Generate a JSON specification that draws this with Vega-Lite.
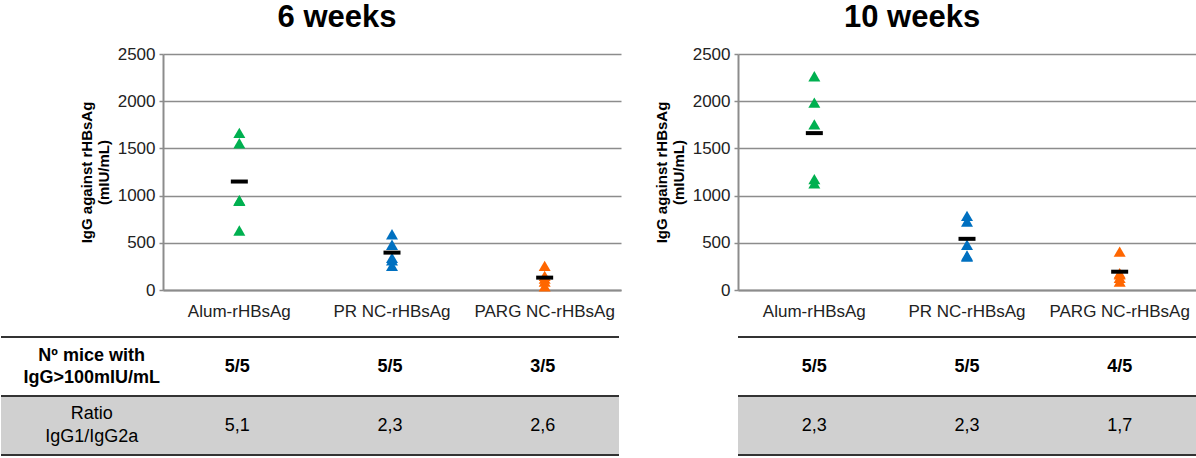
{
  "$schema": "https://vega.github.io/schema/vega-lite/v6.json",
  "padding": {"top": 2, "left": 0, "right": 0, "bottom": 0},
  "background": "white",
  "config": {
    "view": {"stroke": null},
    "axis": {"labelFont": "Liberation Sans", "titleFont": "Liberation Sans"},
    "text": {"font": "Liberation Sans"}
  },
  "datasets": {
    "w6": [
      {"group": "Alum-rHBsAg", "igg": 1665},
      {"group": "Alum-rHBsAg", "igg": 1555},
      {"group": "Alum-rHBsAg", "igg": 950},
      {"group": "Alum-rHBsAg", "igg": 945},
      {"group": "Alum-rHBsAg", "igg": 630},
      {"group": "PR NC-rHBsAg", "igg": 590},
      {"group": "PR NC-rHBsAg", "igg": 480},
      {"group": "PR NC-rHBsAg", "igg": 340},
      {"group": "PR NC-rHBsAg", "igg": 315},
      {"group": "PR NC-rHBsAg", "igg": 255},
      {"group": "PARG NC-rHBsAg", "igg": 255},
      {"group": "PARG NC-rHBsAg", "igg": 150},
      {"group": "PARG NC-rHBsAg", "igg": 120},
      {"group": "PARG NC-rHBsAg", "igg": 90},
      {"group": "PARG NC-rHBsAg", "igg": 40}
    ],
    "w10": [
      {"group": "Alum-rHBsAg", "igg": 2265},
      {"group": "Alum-rHBsAg", "igg": 1985},
      {"group": "Alum-rHBsAg", "igg": 1755},
      {"group": "Alum-rHBsAg", "igg": 1175},
      {"group": "Alum-rHBsAg", "igg": 1130},
      {"group": "PR NC-rHBsAg", "igg": 785},
      {"group": "PR NC-rHBsAg", "igg": 725},
      {"group": "PR NC-rHBsAg", "igg": 480},
      {"group": "PR NC-rHBsAg", "igg": 365},
      {"group": "PR NC-rHBsAg", "igg": 355},
      {"group": "PARG NC-rHBsAg", "igg": 407},
      {"group": "PARG NC-rHBsAg", "igg": 177},
      {"group": "PARG NC-rHBsAg", "igg": 165},
      {"group": "PARG NC-rHBsAg", "igg": 130},
      {"group": "PARG NC-rHBsAg", "igg": 90}
    ],
    "t6": [
      {"group": "hdr", "metric": "mice", "text": "Nº mice with\nIgG>100mIU/mL"},
      {"group": "Alum-rHBsAg", "metric": "mice", "text": "5/5"},
      {"group": "PR NC-rHBsAg", "metric": "mice", "text": "5/5"},
      {"group": "PARG NC-rHBsAg", "metric": "mice", "text": "3/5"},
      {"group": "hdr", "metric": "ratio", "text": "Ratio\nIgG1/IgG2a"},
      {"group": "Alum-rHBsAg", "metric": "ratio", "text": "5,1"},
      {"group": "PR NC-rHBsAg", "metric": "ratio", "text": "2,3"},
      {"group": "PARG NC-rHBsAg", "metric": "ratio", "text": "2,6"}
    ],
    "t10": [
      {"group": "Alum-rHBsAg", "metric": "mice", "text": "5/5"},
      {"group": "PR NC-rHBsAg", "metric": "mice", "text": "5/5"},
      {"group": "PARG NC-rHBsAg", "metric": "mice", "text": "4/5"},
      {"group": "Alum-rHBsAg", "metric": "ratio", "text": "2,3"},
      {"group": "PR NC-rHBsAg", "metric": "ratio", "text": "2,3"},
      {"group": "PARG NC-rHBsAg", "metric": "ratio", "text": "1,7"}
    ]
  },
  "spacing": 17,
  "vconcat": [
    {
      "spacing": 33,
      "hconcat": [
        {
          "width": 45,
          "height": 10,
          "data": {"values": [{}]},
          "mark": {"type": "point", "opacity": 0}
        },
        {
          "width": 458,
          "height": 236,
          "title": {"text": "6 weeks", "font": "Liberation Sans", "fontSize": 31, "fontWeight": "bold", "color": "#000", "anchor": "middle", "frame": "bounds", "dx": -13, "offset": 11},
          "data": {"name": "w6"},
          "encoding": {
            "x": {
              "field": "group", "type": "nominal",
              "sort": ["Alum-rHBsAg", "PR NC-rHBsAg", "PARG NC-rHBsAg"],
              "scale": {"type": "band", "paddingInner": 0, "paddingOuter": 0},
              "axis": {"title": null, "labelAngle": 0, "labelFontSize": 17, "labelColor": "#222", "labelPadding": 13, "ticks": false, "domainColor": "#8c8c8c", "domainWidth": 2}
            },
            "y": {
              "field": "igg", "type": "quantitative",
              "scale": {"domain": [0, 2500], "nice": false},
              "axis": {"title": ["IgG against rHBsAg", "(mIU/mL)"], "titleFontSize": 15, "titleFontWeight": "bold", "titleColor": "#000", "titlePadding": 6, "values": [0, 500, 1000, 1500, 2000, 2500], "format": "d", "labelFontSize": 17, "labelColor": "#222", "labelPadding": 4, "tickSize": 4, "tickColor": "#8c8c8c", "tickWidth": 1.5, "domainColor": "#8c8c8c", "domainWidth": 2, "gridColor": "#8c8c8c", "gridWidth": 1.5}
            }
          },
          "layer": [
            {
              "mark": {"type": "point", "shape": "triangle-up", "filled": true, "size": 144, "opacity": 1},
              "encoding": {
                "color": {"field": "group", "type": "nominal", "legend": null, "scale": {"domain": ["Alum-rHBsAg", "PR NC-rHBsAg", "PARG NC-rHBsAg"], "range": ["#00B050", "#0070C0", "#FF6600"]}}
              }
            },
            {
              "mark": {"type": "tick", "color": "#000", "size": 17, "thickness": 4, "opacity": 1},
              "encoding": {"y": {"aggregate": "mean", "field": "igg", "type": "quantitative"}}
            }
          ]
        },
        {
          "width": 458,
          "height": 236,
          "title": {"text": "10 weeks", "font": "Liberation Sans", "fontSize": 31, "fontWeight": "bold", "color": "#000", "anchor": "middle", "frame": "bounds", "dx": -13, "offset": 11},
          "data": {"name": "w10"},
          "encoding": {
            "x": {
              "field": "group", "type": "nominal",
              "sort": ["Alum-rHBsAg", "PR NC-rHBsAg", "PARG NC-rHBsAg"],
              "scale": {"type": "band", "paddingInner": 0, "paddingOuter": 0},
              "axis": {"title": null, "labelAngle": 0, "labelFontSize": 17, "labelColor": "#222", "labelPadding": 13, "ticks": false, "domainColor": "#8c8c8c", "domainWidth": 2}
            },
            "y": {
              "field": "igg", "type": "quantitative",
              "scale": {"domain": [0, 2500], "nice": false},
              "axis": {"title": ["IgG against rHBsAg", "(mIU/mL)"], "titleFontSize": 15, "titleFontWeight": "bold", "titleColor": "#000", "titlePadding": 6, "values": [0, 500, 1000, 1500, 2000, 2500], "format": "d", "labelFontSize": 17, "labelColor": "#222", "labelPadding": 4, "tickSize": 4, "tickColor": "#8c8c8c", "tickWidth": 1.5, "domainColor": "#8c8c8c", "domainWidth": 2, "gridColor": "#8c8c8c", "gridWidth": 1.5}
            }
          },
          "layer": [
            {
              "mark": {"type": "point", "shape": "triangle-up", "filled": true, "size": 144, "opacity": 1},
              "encoding": {
                "color": {"field": "group", "type": "nominal", "legend": null, "scale": {"domain": ["Alum-rHBsAg", "PR NC-rHBsAg", "PARG NC-rHBsAg"], "range": ["#00B050", "#0070C0", "#FF6600"]}}
              }
            },
            {
              "mark": {"type": "tick", "color": "#000", "size": 17, "thickness": 4, "opacity": 1},
              "encoding": {"y": {"aggregate": "mean", "field": "igg", "type": "quantitative"}}
            }
          ]
        }
      ]
    },
    {
      "spacing": 117,
      "hconcat": [
        {
          "width": 618,
          "height": 118,
          "data": {"name": "t6"},
          "encoding": {
            "y": {"field": "metric", "type": "nominal", "scale": {"type": "band", "domain": ["mice", "ratio"], "paddingInner": 0, "paddingOuter": 0}, "axis": null},
            "x": {"field": "group", "type": "nominal", "scale": {"type": "band", "domain": ["hdr", "Alum-rHBsAg", "PR NC-rHBsAg", "PARG NC-rHBsAg"], "paddingInner": 0, "paddingOuter": 0.024, "align": 1}, "axis": null}
          },
          "layer": [
            {
              "transform": [{"filter": "datum.metric == 'ratio'"}, {"aggregate": [{"op": "count", "as": "n"}], "groupby": ["metric"]}],
              "mark": {"type": "rect", "color": "#d0d0d0"},
              "encoding": {"x": null}
            },
            {
              "transform": [{"aggregate": [{"op": "count", "as": "n"}], "groupby": ["metric"]}],
              "mark": {"type": "rule", "color": "#333", "strokeWidth": 2},
              "encoding": {"x": null, "y": {"field": "metric", "type": "nominal", "bandPosition": 0}}
            },
            {
              "transform": [{"filter": "datum.metric == 'ratio'"}, {"aggregate": [{"op": "count", "as": "n"}], "groupby": ["metric"]}],
              "mark": {"type": "rule", "color": "#333", "strokeWidth": 2},
              "encoding": {"x": null, "y": {"field": "metric", "type": "nominal", "bandPosition": 1}}
            },
            {
              "transform": [{"filter": "datum.metric == 'mice' && datum.group != 'hdr'"}],
              "mark": {"type": "text", "fontSize": 18, "fontWeight": "bold", "color": "#000", "align": "center", "baseline": "middle"},
              "encoding": {"text": {"field": "text"}}
            },
            {
              "transform": [{"filter": "datum.metric == 'mice' && datum.group == 'hdr'"}],
              "mark": {"type": "text", "fontSize": 18, "fontWeight": "bold", "color": "#000", "lineBreak": "\n", "lineHeight": 22, "align": "center", "baseline": "middle", "dx": 7, "dy": -11},
              "encoding": {"text": {"field": "text"}}
            },
            {
              "transform": [{"filter": "datum.metric == 'ratio' && datum.group != 'hdr'"}],
              "mark": {"type": "text", "fontSize": 18, "color": "#000", "align": "center", "baseline": "middle"},
              "encoding": {"text": {"field": "text"}}
            },
            {
              "transform": [{"filter": "datum.metric == 'ratio' && datum.group == 'hdr'"}],
              "mark": {"type": "text", "fontSize": 18, "color": "#000", "lineBreak": "\n", "lineHeight": 23, "align": "center", "baseline": "middle", "dx": 7, "dy": -11.5},
              "encoding": {"text": {"field": "text"}}
            }
          ]
        },
        {
          "width": 458,
          "height": 118,
          "data": {"name": "t10"},
          "encoding": {
            "y": {"field": "metric", "type": "nominal", "scale": {"type": "band", "domain": ["mice", "ratio"], "paddingInner": 0, "paddingOuter": 0}, "axis": null},
            "x": {"field": "group", "type": "nominal", "scale": {"type": "band", "domain": ["Alum-rHBsAg", "PR NC-rHBsAg", "PARG NC-rHBsAg"], "paddingInner": 0, "paddingOuter": 0}, "axis": null}
          },
          "layer": [
            {
              "transform": [{"filter": "datum.metric == 'ratio'"}, {"aggregate": [{"op": "count", "as": "n"}], "groupby": ["metric"]}],
              "mark": {"type": "rect", "color": "#d0d0d0"},
              "encoding": {"x": null}
            },
            {
              "transform": [{"aggregate": [{"op": "count", "as": "n"}], "groupby": ["metric"]}],
              "mark": {"type": "rule", "color": "#333", "strokeWidth": 2},
              "encoding": {"x": null, "y": {"field": "metric", "type": "nominal", "bandPosition": 0}}
            },
            {
              "transform": [{"filter": "datum.metric == 'ratio'"}, {"aggregate": [{"op": "count", "as": "n"}], "groupby": ["metric"]}],
              "mark": {"type": "rule", "color": "#333", "strokeWidth": 2},
              "encoding": {"x": null, "y": {"field": "metric", "type": "nominal", "bandPosition": 1}}
            },
            {
              "transform": [{"filter": "datum.metric == 'mice'"}],
              "mark": {"type": "text", "fontSize": 18, "fontWeight": "bold", "color": "#000", "align": "center", "baseline": "middle"},
              "encoding": {"text": {"field": "text"}}
            },
            {
              "transform": [{"filter": "datum.metric == 'ratio'"}],
              "mark": {"type": "text", "fontSize": 18, "color": "#000", "align": "center", "baseline": "middle"},
              "encoding": {"text": {"field": "text"}}
            }
          ]
        }
      ]
    }
  ]
}
